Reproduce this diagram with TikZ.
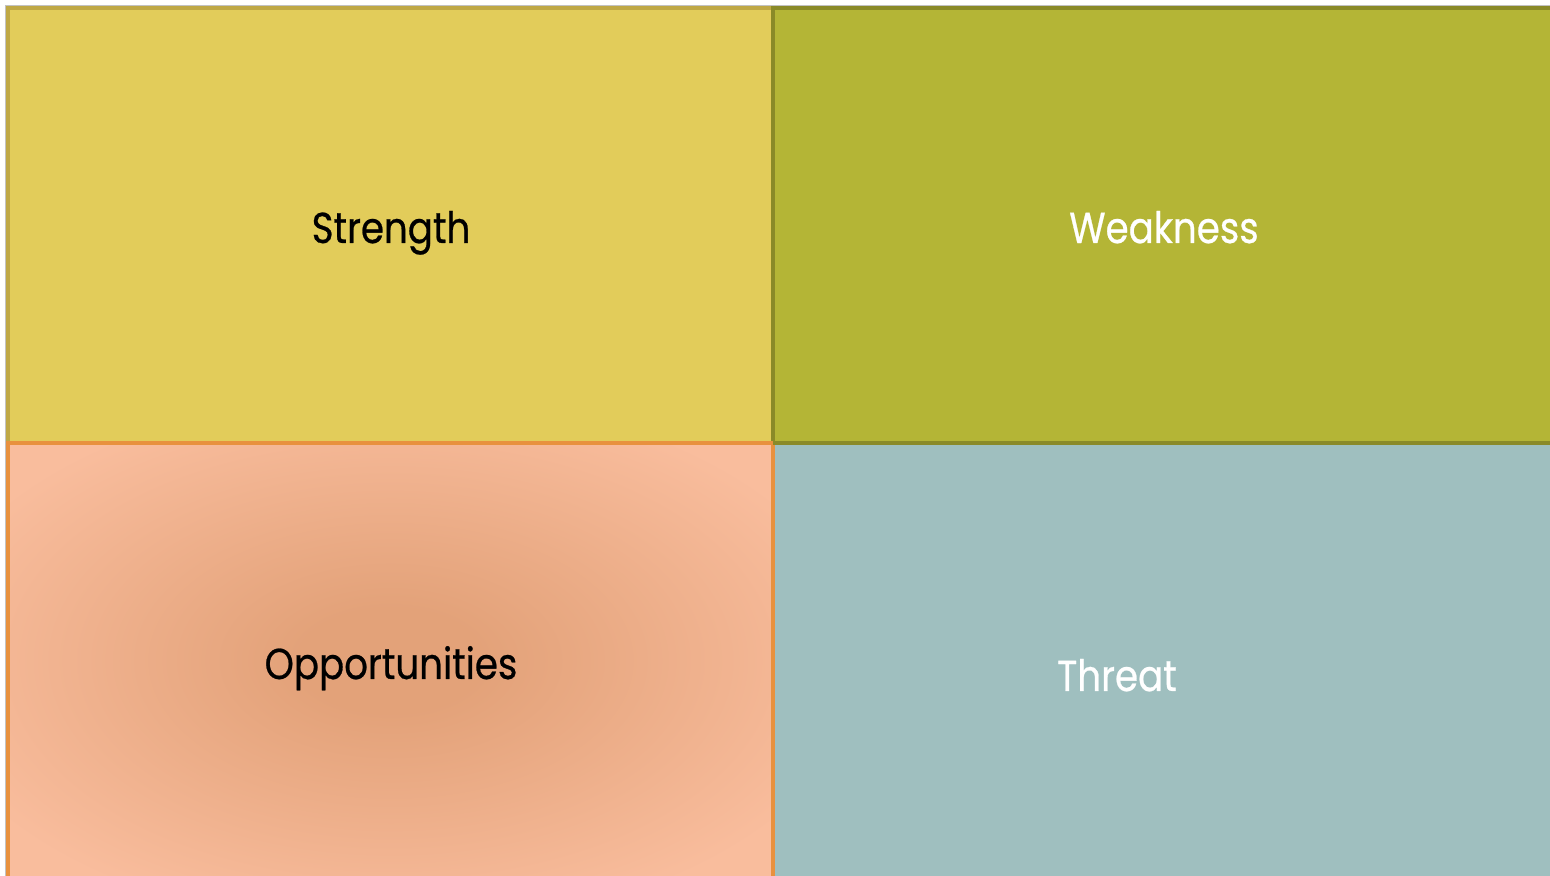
\documentclass[tikz,border=0pt]{standalone}
\usepackage{fontspec}
\setmainfont{Poppins}
\newfontfamily\labfont[FakeStretch=0.86,FakeBold=0.6]{Poppins}
\definecolor{strfill}{HTML}{E2CC5A}
\definecolor{strline}{HTML}{BFA845}
\definecolor{weakfill}{HTML}{B4B536}
\definecolor{weakline}{HTML}{8A8A28}
\definecolor{oppline}{HTML}{E8913E}
\definecolor{thrfill}{HTML}{9FBFBF}
\definecolor{shadowgray}{HTML}{9A9A9A}
\pgfdeclareradialshading{oppshade}{\pgfpoint{0bp}{0bp}}{rgb(0bp)=(0.89,0.635,0.475); rgb(6bp)=(0.89,0.635,0.475); rgb(31bp)=(0.975,0.74,0.615); rgb(70bp)=(0.975,0.74,0.615)}
\tikzset{
  quad/.style={line width=1.2pt},
  lab/.style={font=\labfont\fontsize{12.3}{14}\selectfont, anchor=base, inner sep=0pt}
}
\begin{document}
\begin{tikzpicture}[x=0.01cm,y=-0.01cm]
\useasboundingbox (0,0) rectangle (1550,876);
\fill[white] (0,0) rectangle (1550,876);
% shadow
\fill[shadowgray, opacity=0.6] (5,5) rectangle (1560,890);
% quadrants
\path[quad, fill=strfill, draw=strline] (8,8) coordinate (s1) rectangle (773,443) coordinate (s2);
\path[quad, fill=weakfill, draw=weakline] (773,8) coordinate (w1) rectangle (1560,443) coordinate (w2);
\path[quad, draw=oppline, shading=oppshade] (8,443) coordinate (o1) rectangle (773,878) coordinate (o2);
\path[fill=thrfill] (774,444.5) coordinate (t1) rectangle (1560,890) coordinate (t2);
\draw[quad, draw=oppline] (773,443) -- (773,878);
\draw[quad, draw=weakline] (773,443) -- (1560,443);
% labels
\node[lab, text=black] (str) at (391,243) {Strength};
\node[lab, text=white] (weak) at (1164,243) {Weakness};
\node[lab, text=black] (opp) at (391,679) {Opportunities};
\node[lab, text=white] (thr) at (1117,691) {Threat};
\end{tikzpicture}
\end{document}
